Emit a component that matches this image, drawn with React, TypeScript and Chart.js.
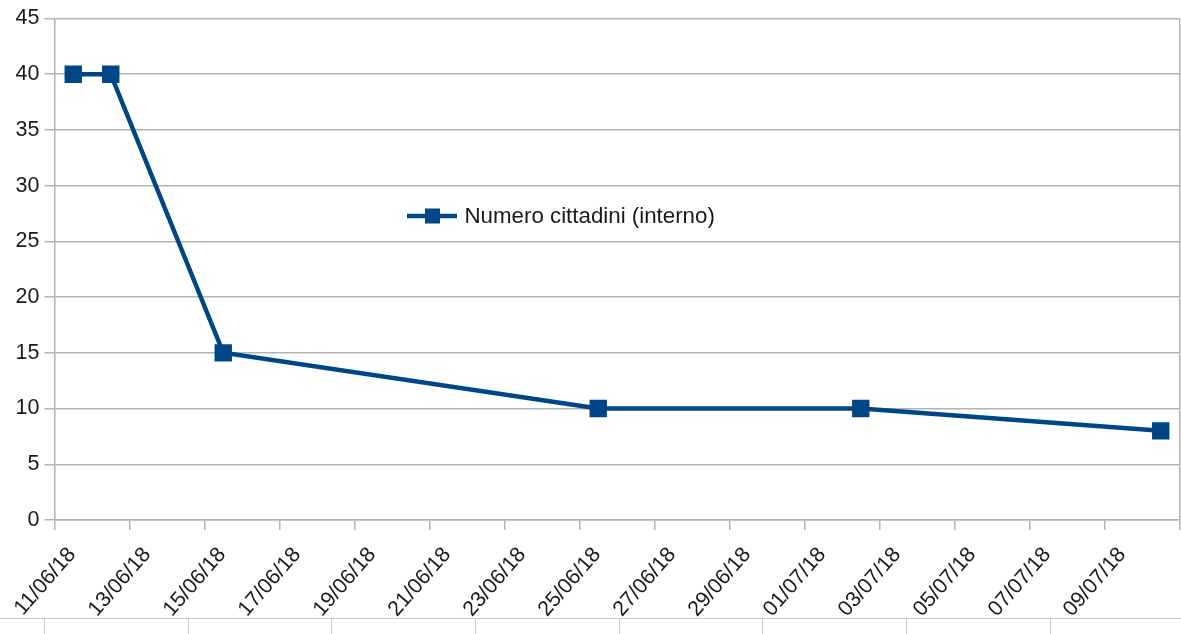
import React, { useEffect, useRef } from 'react';
import { Chart, registerables } from 'chart.js';

Chart.register(...registerables);

const seriesLabel = 'Numero cittadini (interno)';
const dates = ['11/06/18', '12/06/18', '15/06/18', '25/06/18', '02/07/18', '10/07/18'];
const values = [40, 40, 15, 10, 10, 8];
const axisStart = '11/06/18';
const axisDays = 30;
const xTickLabels = [
  '11/06/18', '13/06/18', '15/06/18', '17/06/18', '19/06/18', '21/06/18', '23/06/18', '25/06/18',
  '27/06/18', '29/06/18', '01/07/18', '03/07/18', '05/07/18', '07/07/18', '09/07/18',
];
const yMin = 0;
const yMax = 45;
const yStep = 5;

const LINE_COLOR = '#004586';
const GRID_COLOR = '#b3b3b3';
const TEXT_COLOR = '#1a1a1a';
const FONT = '"Liberation Sans", Arial, sans-serif';

function dayIndex(s: string): number {
  const [d, m, y] = s.split('/').map(Number);
  return Date.UTC(2000 + y, m - 1, d) / 86400000;
}

function zeroPadding(scale: any) {
  scale.paddingLeft = 0;
  scale.paddingRight = 0;
  scale.paddingTop = 0;
  scale.paddingBottom = 0;
}

const insideLegend = {
  id: 'insideLegend',
  afterDraw(chart: any) {
    const { ctx, chartArea } = chart;
    const ds = chart.data.datasets[0];
    const x0 = chartArea.left + 352.5;
    const y = chartArea.top + 197.5;
    ctx.save();
    ctx.strokeStyle = ds.borderColor;
    ctx.lineWidth = 4.5;
    ctx.beginPath();
    ctx.moveTo(x0, y);
    ctx.lineTo(x0 + 50, y);
    ctx.stroke();
    ctx.fillStyle = ds.borderColor;
    ctx.fillRect(x0 + 18, y - 7.5, 15, 15);
    ctx.font = '22.3px ' + FONT;
    ctx.fillStyle = TEXT_COLOR;
    ctx.textBaseline = 'middle';
    ctx.textAlign = 'left';
    ctx.fillText(ds.label, x0 + 57.5, y + 1);
    ctx.restore();
  },
};

const bottomRule = {
  id: 'bottomRule',
  afterDraw(chart: any) {
    const { ctx, width, height } = chart;
    const yLine = height - 16;
    const step = width / 8.22;
    ctx.save();
    ctx.strokeStyle = '#c8c8c8';
    ctx.lineWidth = 1;
    ctx.beginPath();
    ctx.moveTo(0, yLine + 0.5);
    ctx.lineTo(width, yLine + 0.5);
    for (let k = 0; k < 9; k++) {
      const x = Math.round(44 + k * step) + 0.5;
      if (x > width) break;
      ctx.moveTo(x, yLine);
      ctx.lineTo(x, height);
    }
    ctx.stroke();
    ctx.restore();
  },
};

export default function App() {
  const canvasRef = useRef<HTMLCanvasElement | null>(null);

  useEffect(() => {
    if (!canvasRef.current) return;
    Chart.defaults.font.family = FONT;
    const start = dayIndex(axisStart);
    const points = dates.map((d, i) => ({ x: dayIndex(d) - start + 0.5, y: values[i] }));

    const chart = new Chart(canvasRef.current, {
      type: 'line',
      data: {
        datasets: [
          {
            label: seriesLabel,
            data: points,
            borderColor: LINE_COLOR,
            backgroundColor: LINE_COLOR,
            borderWidth: 4.5,
            pointStyle: 'rect',
            pointRadius: 12.3,
            pointHoverRadius: 12.3,
            pointBackgroundColor: LINE_COLOR,
            pointBorderColor: LINE_COLOR,
            pointBorderWidth: 0,
            tension: 0,
            fill: false,
          },
        ],
      },
      options: {
        responsive: false,
        animation: false,
        events: [],
        layout: { autoPadding: false, padding: { top: 18.5, right: 1.5, left: 0, bottom: 0 } },
        plugins: {
          legend: { display: false },
          tooltip: { enabled: false },
        },
        scales: {
          x: {
            type: 'linear',
            min: 0,
            max: axisDays,
            afterFit: (scale: any) => {
              scale.height = 114;
              zeroPadding(scale);
            },
            afterUpdate: (scale: any) => zeroPadding(scale),
            afterBuildTicks: (scale: any) => {
              const t = [];
              for (let v = 0; v <= axisDays; v += 2) t.push({ value: v });
              scale.ticks = t;
            },
            ticks: {
              autoSkip: false,
              maxRotation: 49,
              minRotation: 49,
              labelOffset: 17.5,
              padding: 12.5,
              color: TEXT_COLOR,
              font: { size: 21.3 },
              callback: (v: any) => xTickLabels[Math.round(Number(v) / 2)] ?? '',
            },
            grid: {
              drawOnChartArea: true,
              color: (c: any) => (c.tick && c.tick.value === axisDays ? GRID_COLOR : 'rgba(0,0,0,0)'),
              tickColor: GRID_COLOR,
              tickLength: 10,
              lineWidth: 1.5,
            },
            border: { display: true, color: GRID_COLOR, width: 1.5 },
          },
          y: {
            type: 'linear',
            min: yMin,
            max: yMax,
            afterFit: (scale: any) => {
              scale.width = 54.5;
              zeroPadding(scale);
            },
            afterUpdate: (scale: any) => zeroPadding(scale),
            ticks: {
              stepSize: yStep,
              padding: 5,
              color: TEXT_COLOR,
              font: { size: 21.5 },
            },
            grid: {
              color: GRID_COLOR,
              tickColor: GRID_COLOR,
              tickLength: 10,
              lineWidth: 1.5,
            },
            border: { display: true, color: GRID_COLOR, width: 1.5 },
          },
        },
      },
      plugins: [insideLegend, bottomRule],
    });

    return () => chart.destroy();
  }, []);

  return (
    <div style={{ position: 'fixed', left: 0, top: 0, width: 1181, height: 634, background: '#fff' }}>
      <canvas ref={canvasRef} width={1181} height={634} style={{ display: 'block' }} />
    </div>
  );
}
